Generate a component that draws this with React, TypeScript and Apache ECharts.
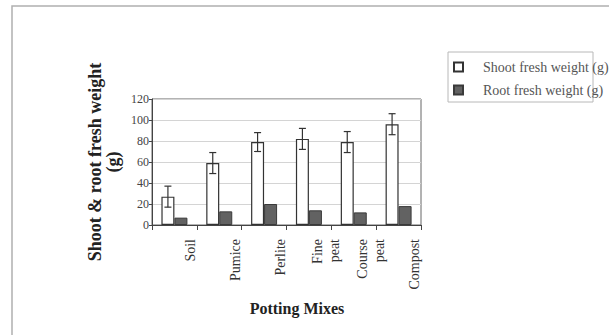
import React, { useEffect, useRef } from "react";
import * as echarts from "echarts";

const categories = ["Soil", "Pumice", "Perlite", "Fine\npeat", "Course\npeat", "Compost"];
const shootWeight = [27, 59, 79, 82, 79, 96];
const shootError = [10, 10, 9, 10, 10, 10];
const rootWeight = [7, 13, 20, 14, 12, 18];
const seriesNames = ["Shoot fresh weight (g)", "Root fresh weight (g)"];
const yTicks = { min: 0, max: 120, interval: 20 };

const BAR_W = 13;
const SERIF = "'Liberation Serif', 'Times New Roman', serif";

export default function App() {
  const ref = useRef<HTMLDivElement>(null);
  useEffect(() => {
    document.body.style.margin = "0";
    if (!ref.current) return;
    const chart = echarts.init(ref.current, undefined, { renderer: "svg" });
    const errData = shootWeight.map((v, i) => [i, v, shootError[i]]);
    chart.setOption({
      animation: false,
      backgroundColor: "#fff",
      graphic: [
        {
          type: "rect",
          shape: { x: 12, y: 6, width: 700, height: 400 },
          style: { fill: "none", stroke: "#b0b0b0", lineWidth: 1.5 },
          silent: true,
        },
        {
          type: "rect",
          shape: { x: 448, y: 52, width: 145, height: 50 },
          style: { fill: "none", stroke: "#b8b8b8", lineWidth: 1 },
          silent: true,
        },
      ],
      legend: {
        orient: "vertical",
        left: 453,
        top: 60,
        padding: 0,
        itemWidth: 9,
        itemHeight: 9,
        itemGap: 9,
        icon: "rect",
        data: seriesNames,
        textStyle: { fontFamily: SERIF, fontSize: 14, color: "#555", padding: [0, 0, 0, 15] },
      },
      grid: { left: 152, top: 99, right: 188, bottom: 110, show: true, borderColor: "#666", borderWidth: 1, backgroundColor: "#fff" },
      xAxis: {
        type: "category",
        data: categories,
        axisLine: { lineStyle: { color: "#444", width: 1 } },
        axisTick: { show: true, length: 5, lineStyle: { color: "#444" } },
        axisLabel: {
          rotate: 90,
          interval: 0,
          margin: 14,
          fontFamily: SERIF,
          fontSize: 14,
          color: "#333",
          verticalAlign: "top",
          formatter: (v: string) => {
            const parts = v.split("\n");
            if (parts.length === 1) return `{s|${v}}`;
            return parts.map((p) => `{d|${p}}`).join("\n");
          },
          rich: {
            s: { fontFamily: SERIF, fontSize: 14, color: "#333", lineHeight: 32 },
            d: { fontFamily: SERIF, fontSize: 14, color: "#333", lineHeight: 17 },
          },
        },
        name: "Potting Mixes",
        nameLocation: "middle",
        nameGap: 75,
        nameTextStyle: { fontFamily: SERIF, fontSize: 16, fontWeight: "bold", color: "#222", padding: [0, 0, 0, 21] },
      },
      yAxis: {
        type: "value",
        min: yTicks.min,
        max: yTicks.max,
        interval: yTicks.interval,
        axisLine: { show: true, lineStyle: { color: "#444", width: 1 } },
        axisTick: { show: true, length: 3, lineStyle: { color: "#444" } },
        axisLabel: { fontFamily: SERIF, fontSize: 12, color: "#444", margin: 3 },
        splitLine: { show: true, lineStyle: { color: "#d4d4d4", width: 1 } },
        name: "Shoot & root fresh weight\n(g)",
        nameLocation: "middle",
        nameRotate: 90,
        nameGap: 30,
        nameTextStyle: { fontFamily: SERIF, fontSize: 18, fontWeight: "bold", color: "#222", lineHeight: 18 },
      },
      series: [
        {
          name: seriesNames[0],
          type: "bar",
          data: shootWeight,
          barWidth: BAR_W,
          barGap: "0%",
          itemStyle: { color: "#ffffff", borderColor: "#333", borderWidth: 1.2 },
        },
        {
          name: seriesNames[1],
          type: "bar",
          data: rootWeight,
          barWidth: BAR_W,
          barGap: "0%",
          itemStyle: { color: "#626262", borderColor: "#3a3a3a", borderWidth: 1 },
        },
        {
          type: "custom",
          name: "err",
          data: errData,
          encode: { x: 0, y: 1 },
          z: 5,
          renderItem: (params: any, api: any) => {
            const i = api.value(0);
            const v = api.value(1);
            const e = api.value(2);
            const top = api.coord([i, v + e]);
            const bot = api.coord([i, v - e]);
            const x = top[0] - BAR_W / 2;
            const cap = 3.5;
            const style = { stroke: "#333", lineWidth: 1.2 };
            return {
              type: "group",
              children: [
                { type: "line", shape: { x1: x, y1: top[1], x2: x, y2: bot[1] }, style },
                { type: "line", shape: { x1: x - cap, y1: top[1], x2: x + cap, y2: top[1] }, style },
                { type: "line", shape: { x1: x - cap, y1: bot[1], x2: x + cap, y2: bot[1] }, style },
              ],
            };
          },
        },
      ],
    });
    return () => chart.dispose();
  }, []);
  return <div ref={ref} style={{ width: 609, height: 335 }} />;
}
